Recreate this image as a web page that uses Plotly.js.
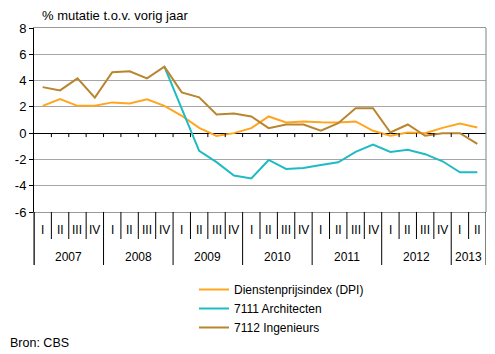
<!DOCTYPE html>
<html>
<head>
<meta charset="utf-8">
<script src="https://cdn.plot.ly/plotly-3.0.1.min.js"></script>
<style>html,body{margin:0;padding:0;background:#fff}#chart{width:495px;height:354px}</style>
</head>
<body>
<div id="chart"></div>
<script>
var quarters = ['I','II','III','IV','I','II','III','IV','I','II','III','IV','I','II','III','IV','I','II','III','IV','I','II','III','IV','I','II'];
var yearLabels = ['2007','2008','2009','2010','2011','2012','2013'];
var yearSizes = [4,4,4,4,4,4,2];
var yTickVals = [-6, -4, -2, 0, 2, 4, 6, 8];
var yTickText = ['-6', '-4', '-2', '0', '2', '4', '6', '8'];
var dpi = [2.08, 2.6, 2.08, 2.08, 2.34, 2.26, 2.57, 2.08, 1.32, 0.4, -0.22, 0.0, 0.38, 1.27, 0.81, 0.89, 0.83, 0.81, 0.89, 0.18, -0.2, 0.05, 0.0, 0.4, 0.73, 0.43];
var architecten = [null, null, null, null, null, null, null, 5.06, 1.85, -1.35, -2.21, -3.23, -3.45, -2.04, -2.72, -2.65, -2.42, -2.22, -1.43, -0.87, -1.43, -1.27, -1.6, -2.14, -2.98, -2.98];
var ingenieurs = [3.5, 3.25, 4.17, 2.7, 4.63, 4.7, 4.17, 5.06, 3.1, 2.72, 1.42, 1.5, 1.27, 0.38, 0.66, 0.66, 0.18, 0.76, 1.9, 1.9, 0.05, 0.66, -0.2, 0.0, 0.0, -0.82];
var seriesNames = ['Dienstenprijsindex (DPI)', '7111 Architecten', '7112 Ingenieurs'];
var colors = ['#FFA51E', '#1FBBC3', '#B9852F'];

var FONT = 'Liberation Sans, Arial, sans-serif';
var xs = quarters.map(function(q, i){ return i; });
var values = [dpi, architecten, ingenieurs];
var traces = values.map(function(v, k){
  return {x: xs, y: v, type: 'scatter', mode: 'lines', name: seriesNames[k],
    legendgroup: 'g' + k, line: {color: colors[k], width: 2}, connectgaps: false, hoverinfo: 'none'};
});

var plotH = 184;
var shapes = [];
var annotations = [];
for (var i = 0; i < quarters.length - 1; i++) {
  shapes.push({type: 'line', xref: 'x', yref: 'y', x0: i + 0.5, x1: i + 0.5, y0: 0, y1: -0.3, line: {color: '#000', width: 1}});
}
var start = 0;
var boundaries = [-0.5];
yearSizes.forEach(function(n, k){
  var end = start + n;
  boundaries.push(end - 0.5);
  annotations.push({xref: 'x', yref: 'paper', x: start + (n - 1) / 2, y: -45 / plotH, text: yearLabels[k], showarrow: false,
    xanchor: 'center', yanchor: 'middle', font: {family: FONT, size: 12, color: '#000'}});
  start = end;
});
quarters.forEach(function(q, i){
  annotations.push({xref: 'x', yref: 'paper', x: i, y: -18 / plotH, text: q, showarrow: false,
    xanchor: 'center', yanchor: 'middle', font: {family: FONT, size: 12, color: '#000'}});
  if (i < quarters.length - 1 && boundaries.indexOf(i + 0.5) < 0) {
    shapes.push({type: 'line', xref: 'x', yref: 'paper', x0: i + 0.5, x1: i + 0.5, y0: 0, y1: -27 / plotH, line: {color: '#000', width: 1}});
  }
});
boundaries.forEach(function(b){
  shapes.push({type: 'line', xref: 'x', yref: 'paper', x0: b, x1: b, y0: 0, y1: -53 / plotH, line: {color: '#000', width: 1}});
});
shapes.push({type: 'line', xref: 'paper', yref: 'paper', x0: 1, x1: 1, y0: 0, y1: 1, line: {color: '#808080', width: 1}});
shapes.push({type: 'line', xref: 'paper', yref: 'paper', x0: 0, x1: 0, y0: 0, y1: -53 / plotH, line: {color: '#000', width: 1}});

annotations.push({xref: 'paper', yref: 'paper', x: -34 / 452, y: 1 + 13 / plotH, text: '% mutatie t.o.v. vorig jaar', showarrow: false,
  xanchor: 'left', yanchor: 'middle', xshift: 40, font: {family: FONT, size: 13, color: '#000'}});
annotations.push({xref: 'paper', yref: 'paper', x: -34 / 452, y: -(343 - 212) / plotH, text: 'Bron: CBS', showarrow: false,
  xanchor: 'left', yanchor: 'middle', xshift: 8, font: {family: FONT, size: 12.5, color: '#000'}});

var layout = {
  width: 495, height: 354,
  margin: {l: 34, r: 9, t: 28, b: 142, pad: 0, autoexpand: false},
  paper_bgcolor: '#fff', plot_bgcolor: '#fff',
  showlegend: true,
  legend: {xref: 'container', yref: 'container', x: 194 / 495, y: 1 - 275 / 354, xanchor: 'left', yanchor: 'top', bgcolor: 'rgba(0,0,0,0)',
    font: {family: FONT, size: 12, color: '#000'}, tracegroupgap: 6, traceorder: 'normal'},
  xaxis: {range: [-0.5, 25.5], showticklabels: false, showgrid: false, zeroline: false, ticks: '',
    showline: true, linecolor: '#999999', linewidth: 1, mirror: true, fixedrange: true},
  yaxis: {range: [-6, 8], tickmode: 'array', tickvals: yTickVals, ticktext: yTickText, showgrid: true, gridcolor: '#a6a6a6', gridwidth: 1,
    zeroline: true, zerolinecolor: '#000', zerolinewidth: 1,
    showline: true, linecolor: '#000', linewidth: 1, ticks: 'outside', ticklen: 4, tickcolor: '#000',
    tickfont: {family: FONT, size: 13, color: '#000'}, fixedrange: true},
  shapes: shapes,
  annotations: annotations
};

Plotly.newPlot('chart', traces, layout, {displayModeBar: false, staticPlot: true});
</script>
</body>
</html>
